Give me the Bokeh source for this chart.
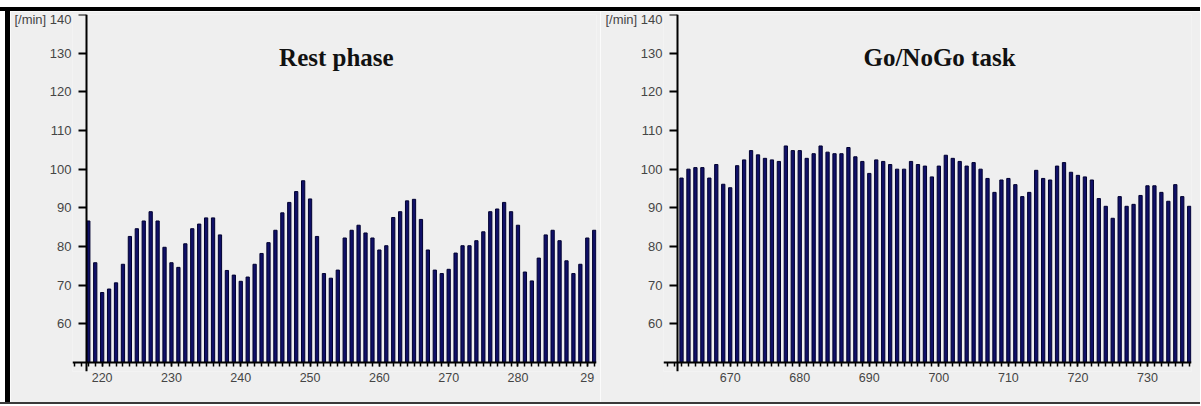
from bokeh.plotting import figure
from bokeh.layouts import row, column
from bokeh.models import (Range1d, SingleIntervalTicker, FixedTicker, Label, Div,
                          LinearAxis)
from bokeh.embed import file_html
from bokeh.resources import INLINE

# ---------------- data ----------------
rest_beats = list(range(218, 292))
rest_rate = [86.6, 75.8, 68.1, 69.0, 70.6, 75.4, 82.6, 84.6, 86.6, 89.0,
             86.6, 79.8, 75.8, 74.6, 80.7, 84.6, 85.8, 87.4, 87.4, 83.0,
             73.8, 72.6, 71.0, 72.1, 75.4, 78.2, 81.0, 84.2, 88.7, 91.4,
             94.2, 97.0, 92.3, 82.6, 73.0, 71.8, 73.9, 82.2, 84.2, 85.5,
             83.5, 82.2, 79.1, 80.2, 87.5, 89.0, 91.8, 92.2, 87.0, 79.1,
             73.9, 73.0, 74.1, 78.3, 80.2, 80.2, 81.5, 83.8, 89.0, 89.7,
             91.4, 89.0, 85.5, 73.4, 71.1, 77.0, 83.0, 84.2, 81.5, 76.3,
             73.0, 75.4, 82.2, 84.2]

task_beats = list(range(663, 737))
task_rate = [97.7, 100.0, 100.4, 100.4, 97.7, 101.2, 96.1, 95.2, 100.9, 102.4,
             104.8, 103.7, 102.8, 102.4, 102.0, 106.0, 104.8, 104.8, 102.8, 104.0,
             106.0, 104.4, 104.0, 104.0, 105.6, 103.2, 102.0, 98.9, 102.4, 102.0,
             101.2, 100.0, 100.0, 102.0, 101.2, 100.8, 98.0, 100.8, 103.6, 102.8,
             102.0, 100.8, 101.7, 100.0, 97.6, 94.0, 97.2, 97.6, 96.0, 92.9,
             94.0, 99.7, 97.6, 97.2, 100.8, 101.7, 99.2, 98.4, 98.0, 97.2,
             92.4, 90.4, 87.3, 92.9, 90.4, 90.9, 93.2, 95.7, 95.7, 94.0,
             91.7, 96.0, 92.9, 90.4]

y_ticks = [60, 70, 80, 90, 100, 110, 120, 130, 140]
y_unit_label = "[/min] 140"

BG = "#efefef"
BAR_FILL = "#101068"
BAR_LINE = "#000030"
LABEL_COLOR = "#454545"


def make_panel(beats, rates, title, width, x_start, x_end, x_axis_at,
               border_left, border_right, title_x, x_overrides=None):
    p = figure(width=width, height=391, output_backend="svg",
               toolbar_location=None,
               x_range=Range1d(x_start, x_end), y_range=Range1d(47.67, 140.0),
               x_axis_type=None, y_axis_type=None,
               min_border_left=border_left, min_border_right=border_right,
               min_border_top=3, min_border_bottom=31,
               background_fill_color=BG, border_fill_color=BG,
               outline_line_color=None)
    p.grid.visible = False

    p.vbar(x=beats, top=rates, bottom=50, width=0.47,
           fill_color=BAR_FILL, line_color=BAR_LINE, line_width=1)

    x_ticker = SingleIntervalTicker(interval=10, num_minor_ticks=10)
    y_ticker = FixedTicker(ticks=y_ticks, minor_ticks=[])

    # axis lines and ticks, crossing inside the frame
    xa = LinearAxis(fixed_location=50, ticker=x_ticker)
    xa.axis_line_color = "black"
    xa.axis_line_width = 2
    xa.major_tick_line_color = "black"
    xa.major_tick_line_width = 1.5
    xa.minor_tick_line_color = "black"
    xa.minor_tick_line_width = 1.5
    xa.major_tick_in = 0
    xa.major_tick_out = 4
    xa.minor_tick_in = 0
    xa.minor_tick_out = 4
    xa.major_label_overrides = {t: "" for t in range(0, 1000, 10)}
    p.add_layout(xa, "below")

    ya = LinearAxis(fixed_location=x_axis_at, ticker=y_ticker)
    ya.axis_line_color = "black"
    ya.axis_line_width = 2
    ya.major_tick_line_color = "black"
    ya.major_tick_line_width = 2
    ya.major_tick_in = 0
    ya.major_tick_out = 8
    ya.minor_tick_line_color = None
    ya.major_label_overrides = {t: "" for t in y_ticks}
    p.add_layout(ya, "left")

    # label-only axes at the frame edges
    xl = LinearAxis(ticker=x_ticker)
    xl.axis_line_color = None
    xl.major_tick_line_color = None
    xl.minor_tick_line_color = None
    xl.major_tick_out = 0
    xl.major_label_standoff = -3
    xl.major_label_text_font = "Liberation Sans"
    xl.major_label_text_font_size = "12.5px"
    xl.major_label_text_color = LABEL_COLOR
    if x_overrides:
        xl.major_label_overrides = x_overrides
    p.add_layout(xl, "below")

    yl = LinearAxis(ticker=y_ticker)
    yl.axis_line_color = None
    yl.major_tick_line_color = None
    yl.minor_tick_line_color = None
    yl.major_tick_out = 0
    yl.major_label_standoff = 1
    yl.major_label_text_font = "Liberation Sans"
    yl.major_label_text_font_size = "13px"
    yl.major_label_text_color = LABEL_COLOR
    yl.major_label_overrides = {140: y_unit_label}
    p.add_layout(yl, "left")

    p.add_layout(Label(x=title_x, y=129.0, text=title, text_align="center",
                       text_baseline="middle", text_font="Liberation Serif",
                       text_font_style="bold", text_font_size="25px",
                       text_color="#111111"))
    return p


p1 = make_panel(rest_beats, rest_rate, "Rest phase", 590,
                215.72, 291.33, 217.74, 62, 4, 253.8, {290: "29"})
p2 = make_panel(task_beats, task_rate, "Go/NoGo task", 600,
                660.41, 736.33, 662.42, 63, 9, 700.1)

top_white = Div(width=1200, height=7, margin=0)
top_black = Div(width=1200, height=4, margin=0,
                styles={"background-color": "black"})
left_white = Div(width=5, height=391, margin=0)
left_black = Div(width=5, height=391, margin=0,
                 styles={"background-color": "black"})
bottom_line = Div(width=1200, height=2, margin=0,
                  styles={"background-color": "#3a3a3a"})

layout = column(top_white, top_black,
                row(left_white, left_black, p1, p2, spacing=0),
                bottom_line, spacing=0)

open("out.html", "w").write(file_html(layout, INLINE))
